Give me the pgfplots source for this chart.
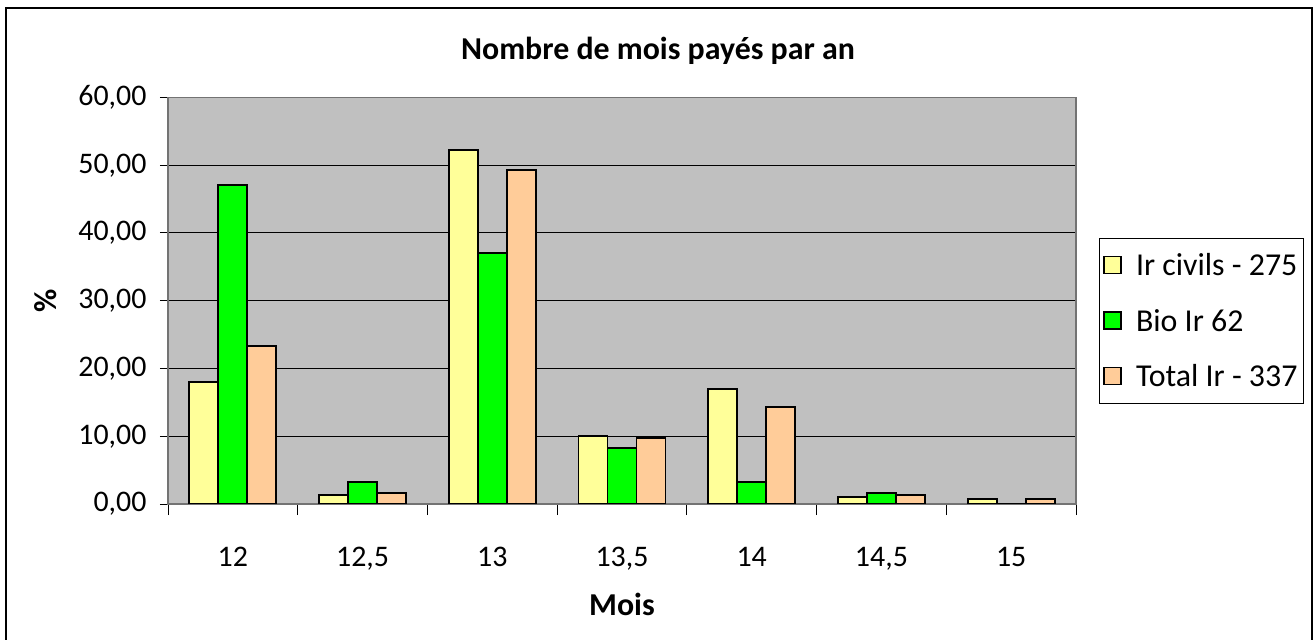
\documentclass[border=0pt]{standalone}
\usepackage{pgfplots}
\pgfplotsset{compat=1.18}
\usepackage{fontspec}
\setmainfont{Carlito}
\definecolor{civ}{HTML}{FFFF99}
\definecolor{bio}{HTML}{00FF00}
\definecolor{tot}{HTML}{FFCC99}
\definecolor{plotbg}{HTML}{C0C0C0}
\begin{document}
\begin{tikzpicture}
\useasboundingbox (0,0) rectangle (1316bp,640bp);
\draw[line width=1.5bp] (6bp,0) -- (6bp,632bp) -- (1312bp,632bp) -- (1312bp,0);
\begin{axis}[
  at={(168bp,136bp)}, anchor=south west,
  scale only axis, width=908bp, height=406.5bp,
  ybar=0pt, bar width=29bp,
  xmin=-0.5, xmax=6.5, ymin=0, ymax=60,
  xtick={0,1,2,3,4,5,6},
  xticklabels={12,{12,5},13,{13,5},14,{14,5},15},
  minor xtick={-0.5,0.5,1.5,2.5,3.5,4.5,5.5,6.5},
  major x tick style={draw=none},
  minor tick length=11bp,
  ytick={0,10,20,30,40,50,60},
  major tick length=8bp,
  tick align=outside,
  tick style={black, line width=1bp},
  xtick pos=bottom, ytick pos=left,
  ymajorgrids, grid style={black, line width=1bp},
  axis background/.style={fill=plotbg},
  axis line style={draw=gray!90!black, line width=1.5bp},
  /pgf/number format/.cd, fixed, fixed zerofill, precision=2, use comma, assume math mode=true,
  /pgfplots/.cd,
  ticklabel style={font=\fontsize{30}{36}\selectfont},
  yticklabel style={xshift=-10bp},
  xticklabel style={yshift=-32bp},
  title={\textbf{Nombre de mois payés par an}},
  title style={font=\fontsize{32}{38}\selectfont, at={(axis description cs:0.5397,1.0996)}, anchor=center},
  xlabel={\textbf{Mois}},
  xlabel style={font=\fontsize{32}{38}\selectfont, at={(axis description cs:0.5,-0.246)}, anchor=center},
  ylabel={\textbf{\%}},
  ylabel style={font=\fontsize{32}{38}\selectfont, at={(axis description cs:-0.135,0.5)}, anchor=center},
  legend style={at={(axis description cs:1.0253,0.654)}, anchor=north west,
    draw=black, line width=1bp, font=\fontsize{32}{38}\selectfont,
    inner xsep=4bp, inner ysep=13bp, row sep=28bp},
  legend cell align=left,
  legend image code/.code={\draw[#1, line width=1.2bp] (0bp,-8bp) rectangle (17bp,9bp);
     \path[draw=none, fill=none] (0bp,0bp) -- (30bp,0bp);},
  every axis plot/.append style={draw=black, line width=1.8bp},
]
\addplot[fill=civ] coordinates {(0,18.03) (1,1.28) (2,52.2) (3,10.0) (4,17.0) (5,1.05) (6,0.75)};
\addplot[fill=bio] coordinates {(0,47.1) (1,3.25) (2,37.1) (3,8.3) (4,3.3) (5,1.65) (6,0)};
\addplot[fill=tot] coordinates {(0,23.3) (1,1.63) (2,49.3) (3,9.7) (4,14.35) (5,1.35) (6,0.7)};
\legend{Ir civils - 275, Bio Ir 62, Total Ir - 337}
\end{axis}
\end{tikzpicture}
\end{document}
